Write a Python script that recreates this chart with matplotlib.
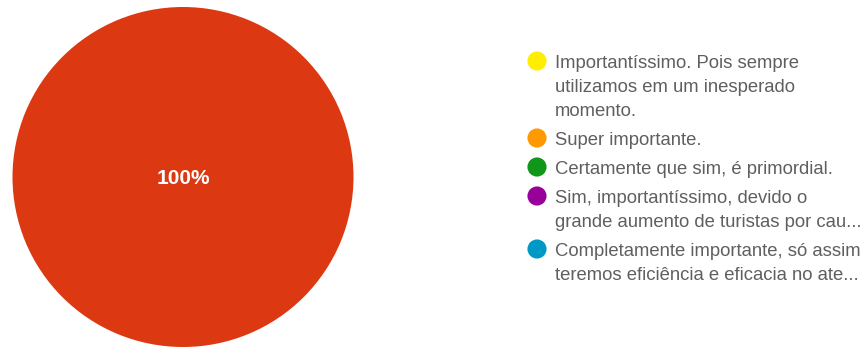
import matplotlib.pyplot as plt

plt.rcParams['font.family'] = ['Liberation Sans', 'DejaVu Sans']

# pie data: only one answer got responses
pie_values = [100]
pie_colors = ['#dc3912']
pie_label = '100%'

# legend entries visible on the page
legend_labels = [
    ['Importantíssimo. Pois sempre', 'utilizamos em um inesperado', 'momento.'],
    ['Super importante.'],
    ['Certamente que sim, é primordial.'],
    ['Sim, importantíssimo, devido o', 'grande aumento de turistas por cau...'],
    ['Completamente importante, só assim', 'teremos eficiência e eficacia no ate...'],
]
legend_colors = ['#ffee00', '#ff9900', '#109618', '#990099', '#0099c6']

W, H = 866, 347
fig = plt.figure(figsize=(W / 100, H / 100), dpi=100)
fig.patch.set_facecolor('white')

ax = fig.add_axes([12.5 / W, 1 - 347 / H, 341 / W, 340 / H])
ax.pie(pie_values, colors=pie_colors, startangle=90, counterclock=False,
       wedgeprops=dict(linewidth=0))
ax.text(0, -0.01, pie_label, ha='center', va='center', color='white',
        fontsize=15, fontweight='bold')
ax.set_aspect('auto')
ax.set_xlim(-1, 1)
ax.set_ylim(-1, 1)

# legend drawn by hand, Google Forms style
lax = fig.add_axes([0, 0, 1, 1])
lax.set_xlim(0, W)
lax.set_ylim(H, 0)
lax.axis('off')

line_gap = 24
item_gap = 29
y = 61
for lines, col in zip(legend_labels, legend_colors):
    lax.scatter([537], [y], s=190, color=col, edgecolors='none')
    for i, txt in enumerate(lines):
        lax.text(555, y + i * line_gap, txt, ha='left', va='center_baseline',
                 fontsize=13.3, color='#5f5f5f')
    y += line_gap * (len(lines) - 1) + item_gap

fig.savefig('out.png', dpi=100, facecolor='white')
